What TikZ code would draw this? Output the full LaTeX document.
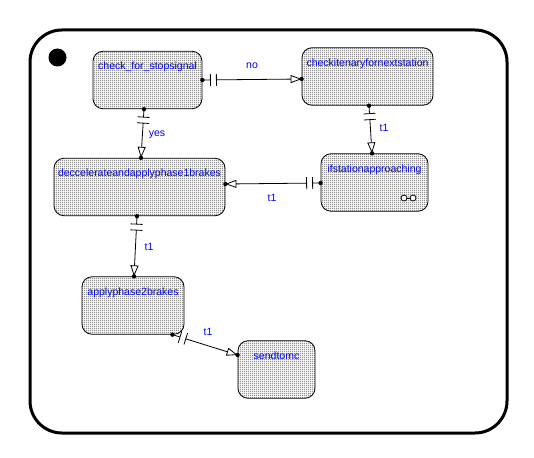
\documentclass[tikz,border=0pt]{standalone}
\usepackage{fontspec}
\setmainfont{Liberation Sans}
\usetikzlibrary{arrows.meta,calc,patterns}
\pgfdeclarepatternformonly{finedots}{\pgfqpoint{0pt}{0pt}}{\pgfqpoint{2pt}{2pt}}{\pgfqpoint{2pt}{2pt}}{%
  \pgfpathrectangle{\pgfqpoint{0.5pt}{0.5pt}}{\pgfqpoint{1pt}{1pt}}\pgfusepath{fill}}
\tikzset{
  state/.style={draw=black, line width=0.8pt, rounded corners=10pt,
    preaction={fill=white}, pattern=finedots, pattern color=black,
    inner xsep=0pt, inner ysep=0pt, text height=18.5pt, text depth=39pt,
    text=blue, font=\fontsize{10.5}{12}\selectfont},
  tlabel/.style={text=blue, font=\fontsize{10.5}{12}\selectfont, inner sep=0pt},
  conn/.style={line width=0.8pt},
  opentip/.style={-{Triangle[open,length=11pt,width=8pt,line width=0.8pt]}},
}
\newcommand\mytrans[2]{%
  \coordinate (s) at (#1);
  \coordinate (t) at (#2);
  \coordinate (p1) at ($(s)!8pt!(t)$);
  \coordinate (p2) at ($(s)!14pt!(t)$);
  \draw[conn] (s) -- (p1);
  \draw[conn] ($(p1)!6pt!90:(t)$) -- ($(p1)!6pt!-90:(t)$);
  \draw[conn] ($(p2)!6pt!90:(t)$) -- ($(p2)!6pt!-90:(t)$);
  \draw[conn,opentip] (p2) -- (t);
  \fill (s) circle (2.2pt);
  \fill (t) circle (2.2pt);
}
\begin{document}
\begin{tikzpicture}[x=1pt,y=-1pt]
\useasboundingbox (0,0) rectangle (534,457);
\draw[line width=3pt, rounded corners=32pt] (30,30) rectangle (507,433);
\fill (57.5,57.5) circle (9pt);

\node[state, minimum width=109pt] (check) at (147.5,80) {check\_for\_stopsignal};
\node[state, minimum width=131pt] (checkit) at (367.5,76.5) {checkitenaryfornextstation};
\node[state, minimum width=171pt] (decc) at (139.5,187) {deccelerateandapplyphase1brakes};
\node[state, minimum width=107pt] (ifst) at (374.5,182.5) {ifstationapproaching};
\node[state, minimum width=102pt] (apply) at (133,305.5) {applyphase2brakes};
\node[state, minimum width=77pt] (send) at (276.5,369.5) {sendtomc};

% history-like symbol
\draw[line width=0.8pt, fill=white] (404,198) circle (3pt);
\draw[line width=0.8pt, fill=white] (413,198) circle (3pt);
\draw[line width=0.8pt] (407,198) -- (410,198);

\mytrans{check.east}{[yshift=-2.5pt]checkit.west}
\mytrans{[xshift=-3.5pt]check.south}{[xshift=1.5pt]decc.north}
\mytrans{[xshift=1.5pt]checkit.south}{[xshift=-2.5pt]ifst.north}
\mytrans{[yshift=-0.5pt]ifst.west}{[yshift=3pt]decc.east}
\mytrans{[xshift=-2.5pt]decc.south}{[xshift=1pt]apply.north}
\mytrans{[xshift=-12pt]apply.south east}{[yshift=14.5pt]send.west}

\node[tlabel] (l1) at (252,66) {no};
\node[tlabel] (l2) at (157,135) {yes};
\node[tlabel] (l3) at (384,128) {t1};
\node[tlabel] (l4) at (272,198) {t1};
\node[tlabel] (l5) at (149,247) {t1};
\node[tlabel] (l6) at (208,332) {t1};
\end{tikzpicture}
\end{document}
